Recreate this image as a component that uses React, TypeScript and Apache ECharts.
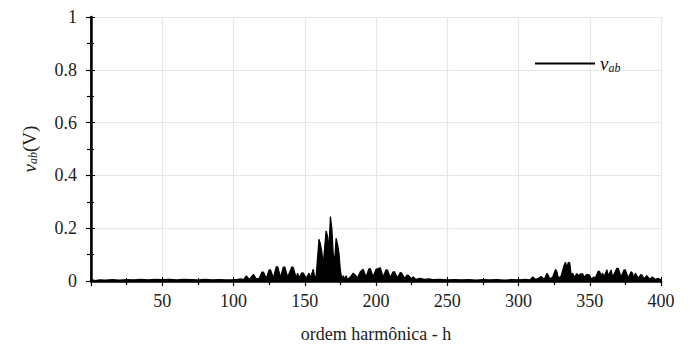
import React, { useEffect, useRef } from "react";
import * as echarts from "echarts";

const harmonicOrder: number[] = [
  1, 3, 6, 10, 15, 20, 25, 30, 35, 40, 45, 50, 55, 60, 65, 70, 75, 80, 85, 90, 95, 100, 103,
  105, 107, 109, 111, 114, 116, 118, 120, 121, 123, 125, 126, 128, 130, 131, 133, 135, 136, 138,
  141, 142, 144, 145, 146, 148, 149, 151, 153, 154, 156, 157, 158, 160, 161, 162, 163, 164, 165,
  166, 167, 168, 169, 170, 171, 172, 173, 174, 175, 176, 177, 178, 179, 180, 182, 184, 185, 187,
  189, 190, 191, 193, 195, 196, 198, 200, 201, 203, 205, 207, 208, 210, 212, 213, 215, 217, 218,
  220, 222, 223, 225, 226, 228, 231, 234, 237, 240, 245, 250, 255, 260, 265, 270, 275, 280, 285,
  290, 295, 300, 305, 308, 310, 312, 314, 316, 318, 320, 321, 322, 324, 326, 327, 328, 330, 332,
  333, 334, 335, 336, 337, 338, 339, 341, 342, 343, 345, 346, 348, 350, 351, 353, 354, 356, 357,
  358, 359, 360, 362, 363, 365, 366, 369, 370, 372, 374, 375, 377, 379, 380, 381, 382, 384, 386,
  387, 388, 390, 392, 394, 396, 398, 400,
];

const vabValues: number[] = [
  0.004, 0.002, 0.004, 0.003, 0.005, 0.003, 0.005, 0.004, 0.006, 0.004, 0.006, 0.005, 0.006, 0.004, 0.006, 0.005, 0.004, 0.006, 0.004, 0.005, 0.004, 0.005, 0.006,
  0.008, 0.005, 0.019, 0.006, 0.025, 0.008, 0.01, 0.034, 0.034, 0.01, 0.042, 0.042, 0.012, 0.054, 0.054, 0.014, 0.053, 0.053, 0.015,
  0.054, 0.05, 0.012, 0.03, 0.012, 0.031, 0.03, 0.01, 0.03, 0.012, 0.045, 0.012, 0.02, 0.158, 0.14, 0.11, 0.06, 0.13, 0.19,
  0.17, 0.12, 0.244, 0.2, 0.1, 0.08, 0.162, 0.14, 0.106, 0.04, 0.01, 0.02, 0.008, 0.02, 0.006, 0.015, 0.03, 0.025, 0.012,
  0.035, 0.04, 0.045, 0.015, 0.046, 0.047, 0.016, 0.045, 0.046, 0.05, 0.015, 0.042, 0.042, 0.014, 0.035, 0.035, 0.012, 0.032, 0.03,
  0.01, 0.023, 0.02, 0.008, 0.016, 0.006, 0.01, 0.006, 0.008, 0.005, 0.006, 0.004, 0.005, 0.004, 0.005, 0.003, 0.005, 0.004, 0.005,
  0.003, 0.005, 0.004, 0.006, 0.004, 0.015, 0.006, 0.01, 0.017, 0.006, 0.029, 0.02, 0.008, 0.015, 0.044, 0.035, 0.01, 0.02, 0.06,
  0.071, 0.05, 0.071, 0.068, 0.02, 0.03, 0.015, 0.028, 0.02, 0.025, 0.028, 0.015, 0.025, 0.022, 0.008, 0.015, 0.012, 0.038, 0.035,
  0.02, 0.03, 0.015, 0.043, 0.02, 0.042, 0.015, 0.048, 0.048, 0.015, 0.042, 0.042, 0.012, 0.035, 0.03, 0.01, 0.03, 0.01, 0.025,
  0.02, 0.008, 0.02, 0.007, 0.015, 0.006, 0.01, 0.004,
];

const xTickStep = 50;
const yTickStep = 0.2;

const FONT = "Times New Roman, Liberation Serif, DejaVu Serif, serif";

export default function App() {
  const ref = useRef<HTMLDivElement>(null);

  useEffect(() => {
    if (!ref.current) return;
    const chart = echarts.init(ref.current, null, { renderer: "svg" });
    const data = harmonicOrder.map((h, i) => [h, vabValues[i]]);

    const axisLineThick = { show: true, lineStyle: { color: "#000", width: 2.5 } };
    const axisLineThin = { show: true, lineStyle: { color: "#000", width: 1.5 } };

    chart.setOption({
      animation: false,
      backgroundColor: "#fff",
      textStyle: { fontFamily: FONT },
      grid: { left: 91, right: 29, top: 17, bottom: 73, containLabel: false },
      legend: {
        left: 530,
        top: 49,
        icon: "rect",
        itemWidth: 60,
        itemHeight: 2,
        itemGap: 4,
        data: [{ name: "vab" }],
        formatter: () => "{i|v}{s|ab}",
        textStyle: {
          fontFamily: FONT,
          rich: {
            i: { fontFamily: FONT, fontStyle: "italic", fontSize: 19, color: "#111", lineHeight: 20 },
            s: { fontFamily: FONT, fontStyle: "italic", fontSize: 12, color: "#111", verticalAlign: "bottom", padding: [6, 0, 0, 0] },
          },
        },
      },
      xAxis: [
        {
          type: "value",
          position: "bottom",
          min: 0,
          max: 400,
          interval: xTickStep,
          axisLine: axisLineThick,
          axisTick: { show: true, inside: false, length: 5, lineStyle: { color: "#000", width: 1.2 } },
          minorTick: { show: true, splitNumber: 2, length: 4, lineStyle: { color: "#000", width: 1.2 } },
          splitLine: { show: true, lineStyle: { color: "#e6e6e6", width: 1.2 } },
          axisLabel: {
            showMinLabel: false,
            margin: 11,
            fontFamily: FONT,
            fontSize: 18,
            color: "#222",
          },
          name: "ordem harmônica - h",
          nameLocation: "middle",
          nameGap: 44,
          nameTextStyle: { fontFamily: FONT, fontSize: 18, color: "#222" },
        },
        {
          type: "value",
          position: "top",
          min: 0,
          max: 400,
          interval: xTickStep,
          axisLine: axisLineThin,
          axisTick: { show: true, inside: false, length: 4, lineStyle: { color: "#000" } },
          minorTick: { show: true, splitNumber: 2, length: 3, lineStyle: { color: "#000" } },
          splitLine: { show: false },
          axisLabel: { show: false },
        },
      ],
      yAxis: [
        {
          type: "value",
          position: "left",
          min: 0,
          max: 1,
          interval: yTickStep,
          axisLine: axisLineThick,
          axisTick: { show: true, inside: false, length: 5, lineStyle: { color: "#000", width: 1.2 } },
          minorTick: { show: true, splitNumber: 2, length: 4, lineStyle: { color: "#000", width: 1.2 } },
          splitLine: { show: true, lineStyle: { color: "#e6e6e6", width: 1.2 } },
          axisLabel: {
            margin: 14,
            fontFamily: FONT,
            fontSize: 18,
            color: "#222",
            formatter: (v: number) => String(Math.round(v * 10) / 10),
          },
          name: "{i|v}{s|ab}{n|(V)}",
          nameLocation: "middle",
          nameRotate: 90,
          nameGap: 52,
          nameTextStyle: {
            fontFamily: FONT,
            rich: {
              i: { fontFamily: FONT, fontStyle: "italic", fontSize: 19, color: "#222", lineHeight: 20 },
              s: { fontFamily: FONT, fontStyle: "italic", fontSize: 12, color: "#222", verticalAlign: "bottom", padding: [6, 0, 0, 0] },
              n: { fontFamily: FONT, fontSize: 19, color: "#222" },
            },
          },
        },
        {
          type: "value",
          position: "right",
          min: 0,
          max: 1,
          interval: yTickStep,
          axisLine: axisLineThin,
          axisTick: { show: true, inside: false, length: 4, lineStyle: { color: "#000" } },
          minorTick: { show: true, splitNumber: 2, length: 3, lineStyle: { color: "#000" } },
          splitLine: { show: false },
          axisLabel: { show: false },
        },
      ],
      series: [
        {
          name: "vab",
          type: "line",
          xAxisIndex: 0,
          yAxisIndex: 0,
          data,
          symbol: "none",
          color: "#000",
          lineStyle: { color: "#000", width: 1.2 },
          areaStyle: { color: "#000", opacity: 1 },
          z: 3,
        },
      ],
    });

    return () => chart.dispose();
  }, []);

  return <div ref={ref} style={{ width: 690, height: 354, margin: -8 }} />;
}
